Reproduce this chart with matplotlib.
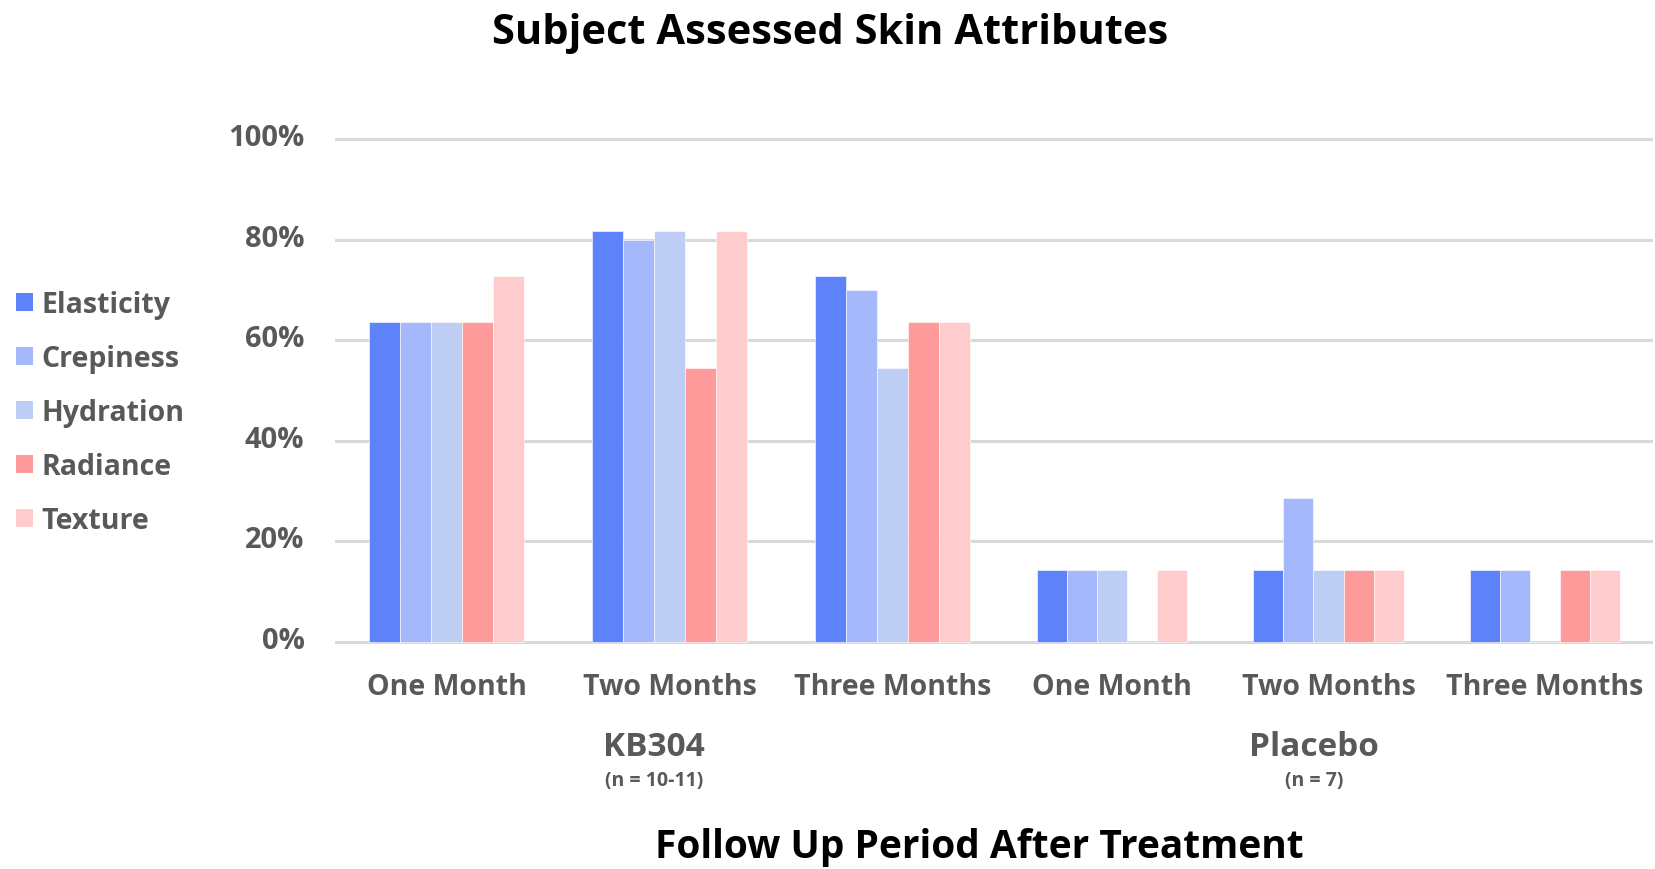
import matplotlib
matplotlib.use("Agg")
import matplotlib.pyplot as plt
import matplotlib.transforms as mtransforms
import numpy as np
from matplotlib.patches import Patch

plt.rcParams['font.family'] = ['Open Sans', 'DejaVu Sans']

# data (percent of subjects reporting improvement)
periods = ['One Month', 'Two Months', 'Three Months']
attributes = ['Elasticity', 'Crepiness', 'Hydration', 'Radiance', 'Texture']
colors = ['#5E82FA', '#A4B8FB', '#BECDF4', '#FE9A9A', '#FFCCCE']

kb_elasticity = [63.6, 81.8, 72.7]
kb_crepiness = [63.6, 80.0, 70.0]
kb_hydration = [63.6, 81.8, 54.5]
kb_radiance = [63.6, 54.5, 63.6]
kb_texture = [72.7, 81.8, 63.6]

pl_elasticity = [14.3, 14.3, 14.3]
pl_crepiness = [14.3, 28.6, 14.3]
pl_hydration = [14.3, 14.3, 0.0]
pl_radiance = [0.0, 14.3, 14.3]
pl_texture = [14.3, 14.3, 14.3]

yticks = [0, 20, 40, 60, 80, 100]

W, H = 1655, 870
fig = plt.figure(figsize=(W / 100, H / 100), dpi=100)

gray = '#595959'
grid_c = '#D9D9D9'

def px_axes(left, right, bottom, top):
    return fig.add_axes([left / W, 1 - bottom / H, (right - left) / W, (bottom - top) / H])

# y range padded half a unit so the 0% and 100% lines are not clipped
unit = 503 / 100.0
ax1 = px_axes(335, 1004, 643 + 0.5 * unit, 140 - 0.5 * unit)
ax2 = px_axes(1004, 1653, 643 + 0.5 * unit, 140 - 0.5 * unit)

bw = 0.139
x = np.arange(len(periods))

def draw(ax, series):
    for i, (vals, c) in enumerate(zip(series, colors)):
        ax.bar(x + (i - 2) * bw, vals, width=bw, color=c, edgecolor='white',
               linewidth=0.4, zorder=3)
    ax.set_xlim(-0.5, 2.5)
    ax.set_ylim(-0.5, 100.5)
    ax.set_yticks(yticks)
    ax.yaxis.grid(True, color=grid_c, linewidth=2.2, zorder=0)
    ax.set_axisbelow(True)
    for s in ax.spines.values():
        s.set_visible(False)
    ax.set_xticks(x)
    ax.set_xticklabels(periods, fontsize=20.5, fontweight='bold', color=gray)
    ax.tick_params(axis='both', length=0)
    ax.tick_params(axis='x', pad=20)

draw(ax1, [kb_elasticity, kb_crepiness, kb_hydration, kb_radiance, kb_texture])
draw(ax2, [pl_elasticity, pl_crepiness, pl_hydration, pl_radiance, pl_texture])

ax1.set_yticklabels([f'{v}%' for v in yticks], fontsize=21, fontweight='bold', color=gray)
ax1.tick_params(axis='y', pad=22)
# labels sit a little above their gridlines in the original
lift = mtransforms.ScaledTranslation(0, 5 / 100, fig.dpi_scale_trans)
for lab in ax1.get_yticklabels():
    lab.set_transform(lab.get_transform() + lift)
ax2.set_yticklabels([])

# group labels
fig.text(654 / W, 1 - 748 / H, 'KB304', ha='center', va='center', fontsize=24,
         fontweight='bold', color=gray)
fig.text(654 / W, 1 - 781 / H, '(n = 10-11)', ha='center', va='center', fontsize=14,
         fontweight='bold', color=gray)
fig.text(1314 / W, 1 - 748 / H, 'Placebo', ha='center', va='center', fontsize=24,
         fontweight='bold', color=gray)
fig.text(1314 / W, 1 - 781 / H, '(n = 7)', ha='center', va='center', fontsize=14,
         fontweight='bold', color=gray)

fig.text(830 / W, 1 - 33 / H, 'Subject Assessed Skin Attributes', ha='center', va='center',
         fontsize=30, fontweight='bold', color='black')
fig.text(979 / W, 1 - 848 / H, 'Follow Up Period After Treatment', ha='center', va='center',
         fontsize=28, fontweight='bold', color='black')

handles = [Patch(facecolor=c, edgecolor='none') for c in colors]
fig.legend(handles, attributes, loc='upper left', bbox_to_anchor=(16 / W, 1 - 291 / H),
           frameon=False, prop={'weight': 'bold', 'size': 20.5},
           labelcolor=gray, handlelength=0.6, handleheight=0.6, handletextpad=0.3,
           labelspacing=0.88, borderpad=0, borderaxespad=0)

fig.savefig('out.png', dpi=100)
